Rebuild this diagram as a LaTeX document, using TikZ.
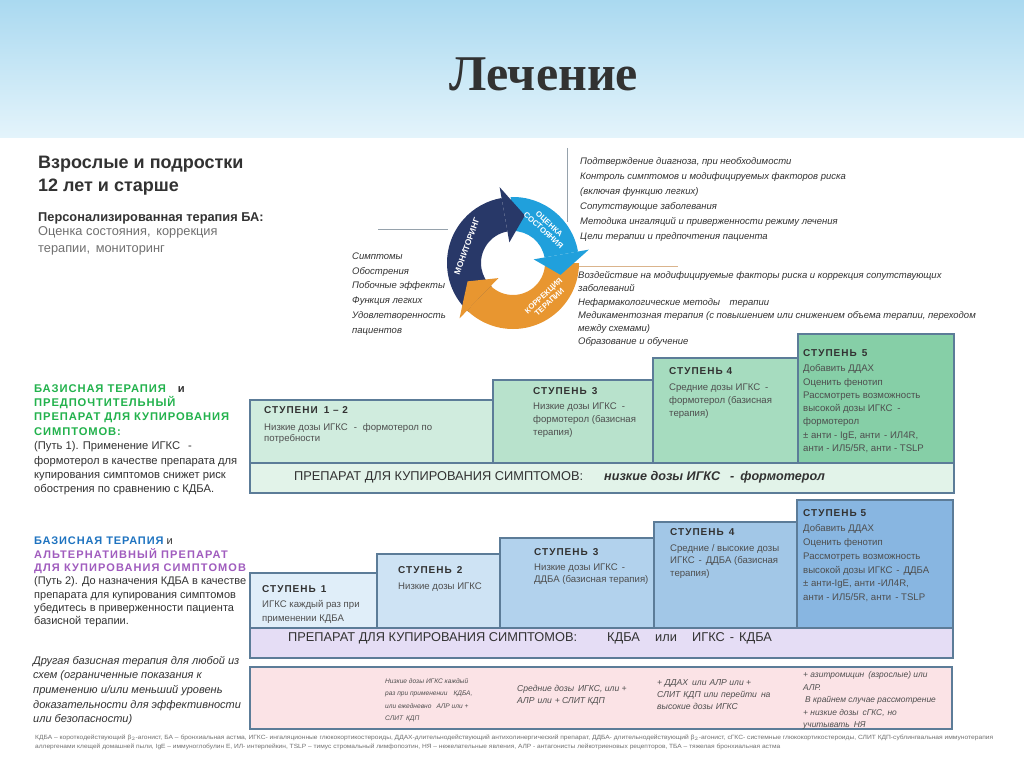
\documentclass[tikz,border=0pt]{standalone}
\usepackage{fontspec}
\setmainfont{Liberation Sans}
\newfontfamily\titlefont{Liberation Serif}
\definecolor{ink}{RGB}{50,50,50}
\definecolor{body}{RGB}{78,78,78}
\definecolor{soft}{RGB}{112,112,112}
\definecolor{frame}{RGB}{92,124,152}
\definecolor{headtop}{RGB}{170,217,240}
\definecolor{headbot}{RGB}{228,244,251}
\definecolor{navy}{RGB}{40,56,104}
\definecolor{sky}{RGB}{32,160,220}
\definecolor{amber}{RGB}{232,150,48}
\definecolor{rule}{RGB}{150,162,172}
\definecolor{tan}{RGB}{218,180,140}
\definecolor{pathgreen}{RGB}{34,178,76}
\definecolor{pathblue}{RGB}{30,115,192}
\definecolor{pathviolet}{RGB}{160,92,190}
\definecolor{gbar}{RGB}{226,243,233}
\definecolor{gone}{RGB}{208,236,222}
\definecolor{gtwo}{RGB}{184,226,204}
\definecolor{gthree}{RGB}{166,220,191}
\definecolor{gfour}{RGB}{134,207,167}
\definecolor{bone}{RGB}{224,238,249}
\definecolor{btwo}{RGB}{206,227,244}
\definecolor{bthree}{RGB}{178,210,237}
\definecolor{bfour}{RGB}{162,199,231}
\definecolor{bfive}{RGB}{136,182,225}
\definecolor{lavender}{RGB}{229,221,245}
\definecolor{rose}{RGB}{251,227,230}

\begin{document}
\begin{tikzpicture}[x=1pt, y=-1pt,
  txt/.style={anchor=north west, inner sep=0pt, align=left},
  box/.style={draw=frame, line width=1.1pt},
  stephead/.style={txt, text=ink, font=\fontsize{10}{12}\selectfont\bfseries\addfontfeatures{LetterSpace=10}},
  stepbody/.style={txt, text=body, font=\fontsize{9.6}{13}\selectfont},
  note/.style={txt, text=ink, font=\fontsize{9.5}{15}\selectfont\itshape},
  barlabel/.style={anchor=west, inner sep=0pt, text=ink, font=\fontsize{12.8}{14}\selectfont},
  other/.style={txt, text=body, font=\fontsize{8.6}{12}\selectfont\itshape},
  arrowtxt/.style={inner sep=0pt, align=center, text=white, font=\fontsize{7.8}{8.6}\selectfont\bfseries}]
  \useasboundingbox (0,0) rectangle (1024,767);
  \fill[white] (0,0) rectangle (1024,767);
  \shade[top color=headtop, bottom color=headbot] (0,0) rectangle (1024,138);
  \node[text=ink, font=\titlefont\bfseries\fontsize{50}{54}\selectfont] (title) at (544,74) {Лечение};

  % header text, left
  \node[txt, text=ink, font=\fontsize{18}{22.5}\selectfont\bfseries] (adults) at (38,156) {Взрослые и подростки\\12 лет и старше};
  \node[txt, text=ink, font=\fontsize{12.8}{15}\selectfont\bfseries] (pers) at (38,212) {Персонализированная терапия БА:};
  \node[txt, text=soft, font=\fontsize{12.8}{17}\selectfont] (cycle) at (38,226.5) {Оценка состояния,\, коррекция\\терапии,\, мониторинг};

  % cycle
  \draw[rule, line width=0.8pt] (378,229) -- (448,229);
  \draw[rule, line width=0.8pt] (567,148) -- (567,222);
  \draw[tan, line width=0.8pt] (567,266) -- (678,266);
  \begin{scope}[shift={(513,263)}, y=1pt]
    \fill[navy] (228:66) arc[start angle=228, end angle=100, radius=66] -- (100:32) arc[start angle=100, end angle=228, radius=32] -- cycle;
    \fill[sky] (92:66) arc[start angle=92, end angle=10, radius=66] -- (10:32) arc[start angle=10, end angle=92, radius=32] -- cycle;
    \fill[amber] (0:66) arc[start angle=0, end angle=-134, radius=66] -- (-134:32) arc[start angle=-134, end angle=0, radius=32] -- cycle;
    \fill[navy] (100:77) -- (76:49) -- (100:21) -- cycle;
    \fill[sky] (10:77) -- (-14:49) -- (10:21) -- cycle;
    \fill[amber] (-134:77) -- (-158:49) -- (-134:21) -- cycle;
    \node[arrowtxt, rotate=70, font=\fontsize{8.4}{9}\selectfont\bfseries] (monitor) at (160:49) {МОНИТОРИНГ};
    \node[arrowtxt, rotate=-42] (assess) at (47:49) {ОЦЕНКА\\СОСТОЯНИЯ};
    \node[arrowtxt, rotate=43] (adjust) at (-47:49) {КОРРЕКЦИЯ\\ТЕРАПИИ};
  \end{scope}
  \node[note, font=\fontsize{9.5}{14.8}\selectfont\itshape] (monlist) at (352,252.5) {Симптомы\\Обострения\\Побочные эффекты\\Функция легких\\Удовлетворенность\\пациентов};
  \node[note] (asslist) at (580,157.5) {Подтверждение диагноза, при необходимости\\Контроль симптомов и модифицируемых факторов риска\\(включая функцию легких)\\Сопутствующие заболевания\\Методика ингаляций и приверженности режиму лечения\\Цели терапии и предпочтения пациента};
  \node[note, font=\fontsize{9.5}{13.2}\selectfont\itshape] (adjlist) at (578,271.5) {Воздействие на модифицируемые факторы риска и коррекция сопутствующих\\заболеваний\\Нефармакологические методы\quad терапии\\Медикаментозная терапия (с повышением или снижением объема терапии, переходом\\между схемами)\\Образование и обучение};

  % track 1
  \node[txt, text=ink, font=\fontsize{11.2}{14.4}\selectfont] (track1) at (34,384) {{\bfseries\color{pathgreen}\addfontfeatures{LetterSpace=8}БАЗИСНАЯ ТЕРАПИЯ}\hspace{12pt}{\bfseries и}\\{\bfseries\color{pathgreen}\addfontfeatures{LetterSpace=8}ПРЕДПОЧТИТЕЛЬНЫЙ}\\{\bfseries\color{pathgreen}\addfontfeatures{LetterSpace=8}ПРЕПАРАТ ДЛЯ КУПИРОВАНИЯ}\\{\bfseries\color{pathgreen}\addfontfeatures{LetterSpace=8}СИМПТОМОВ:}\\(Путь 1). Применение ИГКС\hspace{8pt}-\\формотерол в качестве препарата для\\купирования симптомов снижет риск\\обострения по сравнению с КДБА.};
  \draw[box, fill=gone] (250,400) rectangle (493,463);
  \draw[box, fill=gtwo] (493,380) rectangle (653,463);
  \draw[box, fill=gthree] (653,358) rectangle (798,463);
  \draw[box, fill=gfour] (798,334) rectangle (954,463);
  \draw[box, fill=gbar] (250,463) rectangle (954,493);
  \node[stephead] (ga) at (264,406) {СТУПЕНИ\hspace{6pt}1 – 2};
  \node[stepbody, font=\fontsize{9.6}{11.7}\selectfont] (gatext) at (264,423) {Низкие дозы ИГКС\hspace{6pt}-\hspace{6pt}формотерол по\\потребности};
  \node[stephead] (gb) at (533,387) {СТУПЕНЬ\hspace{5pt}3};
  \node[stepbody] (gbtext) at (533,402.5) {Низкие дозы ИГКС\hspace{5pt}-\\формотерол (базисная\\терапия)};
  \node[stephead] (gc) at (669,367) {СТУПЕНЬ 4};
  \node[stepbody] (gctext) at (669,383.5) {Средние дозы ИГКС\hspace{5pt}-\\формотерол (базисная\\терапия)};
  \node[stephead] (gd) at (803,349) {СТУПЕНЬ\hspace{5pt}5};
  \node[stepbody, font=\fontsize{9.6}{13.3}\selectfont] (gdtext) at (803,364.5) {Добавить ДДАХ\\Оценить фенотип\\Рассмотреть возможность\\высокой дозы ИГКС\hspace{5pt}-\\формотерол\\± анти - IgE, анти\hspace{4pt}- ИЛ4R,\\анти - ИЛ5/5R, анти - TSLP};
  \node[barlabel] (grel) at (294,477) {ПРЕПАРАТ ДЛЯ КУПИРОВАНИЯ СИМПТОМОВ:};
  \node[barlabel, font=\fontsize{12.6}{14}\selectfont\bfseries\itshape] (grelx) at (604,477) {низкие дозы ИГКС\hspace{10pt}-\hspace{6pt}формотерол};

  % track 2
  \node[txt, text=ink, font=\fontsize{11}{13.3}\selectfont] (track2) at (34,537) {{\bfseries\color{pathblue}\addfontfeatures{LetterSpace=8}БАЗИСНАЯ ТЕРАПИЯ} и\\{\bfseries\color{pathviolet}\addfontfeatures{LetterSpace=10}АЛЬТЕРНАТИВНЫЙ ПРЕПАРАТ}\\{\bfseries\color{pathviolet}\addfontfeatures{LetterSpace=10}ДЛЯ КУПИРОВАНИЯ СИМПТОМОВ}\\(Путь 2). До назначения КДБА в качестве\\препарата для купирования симптомов\\убедитесь в приверженности пациента\\базисной терапии.};
  \draw[box, fill=bone] (250,573) rectangle (377,628);
  \draw[box, fill=btwo] (377,554) rectangle (500,628);
  \draw[box, fill=bthree] (500,538) rectangle (654,628);
  \draw[box, fill=bfour] (654,522) rectangle (797,628);
  \draw[box, fill=bfive] (797,500) rectangle (953,628);
  \draw[box, fill=lavender] (250,628) rectangle (953,658);
  \node[stephead] (ba) at (262,585) {СТУПЕНЬ\hspace{5pt}1};
  \node[stepbody, font=\fontsize{9.6}{14}\selectfont] (batext) at (262,600.5) {ИГКС каждый раз при\\применении КДБА};
  \node[stephead] (bb) at (398,566) {СТУПЕНЬ\hspace{5pt}2};
  \node[stepbody] (bbtext) at (398,582.5) {Низкие дозы ИГКС};
  \node[stephead] (bc) at (534,548) {СТУПЕНЬ\hspace{5pt}3};
  \node[stepbody, font=\fontsize{9.6}{12.5}\selectfont] (bctext) at (534,563.5) {Низкие дозы ИГКС\hspace{4pt}-\\ДДБА (базисная терапия)};
  \node[stephead] (bd) at (670,528) {СТУПЕНЬ\hspace{5pt}4};
  \node[stepbody, font=\fontsize{9.6}{12.2}\selectfont] (bdtext) at (670,544.5) {Средние / высокие дозы\\ИГКС\hspace{4pt}-\hspace{4pt}ДДБА (базисная\\терапия)};
  \node[stephead] (be) at (803,509) {СТУПЕНЬ 5};
  \node[stepbody, font=\fontsize{9.6}{13.8}\selectfont] (betext) at (803,524.5) {Добавить ДДАХ\\Оценить фенотип\\Рассмотреть возможность\\высокой дозы ИГКС\hspace{4pt}-\hspace{4pt}ДДБА\\± анти-IgE, анти -ИЛ4R,\\анти - ИЛ5/5R, анти\hspace{4pt}- TSLP};
  \node[barlabel] (brel) at (288,638) {ПРЕПАРАТ ДЛЯ КУПИРОВАНИЯ СИМПТОМОВ:};
  \node[barlabel] (brela) at (607,638) {КДБА};
  \node[barlabel] (brelb) at (655,638) {или};
  \node[barlabel] (brelc) at (692,638) {ИГКС\hspace{5pt}-\hspace{5pt}КДБА};

  % other controller options
  \node[txt, text=ink, font=\fontsize{11}{14.6}\selectfont\itshape] (otherleft) at (33,656) {Другая базисная терапия для любой из\\схем (ограниченные показания к\\применению и/или меньший уровень\\доказательности для эффективности\\или безопасности)};
  \draw[box, fill=rose] (250,667) rectangle (952,729);
  \node[other, font=\fontsize{6.6}{12.3}\selectfont\itshape] (oa) at (385,678.5) {Низкие дозы ИГКС каждый\\раз при применении\hspace{6pt}КДБА,\\или ежедневно\hspace{5pt}АЛР или +\\СЛИТ\hspace{3pt}КДП};
  \node[other] (ob) at (517,685) {Средние дозы\hspace{4pt}ИГКС, или +\\АЛР\hspace{3pt}или\hspace{3pt}+\hspace{2pt}СЛИТ КДП};
  \node[other] (oc) at (657,679) {+ ДДАХ\hspace{4pt}или\hspace{3pt}АЛР или +\\СЛИТ\hspace{3pt}КДП\hspace{3pt}или\hspace{3pt}перейти\hspace{4pt}на\\высокие дозы\hspace{3pt}ИГКС};
  \node[other, font=\fontsize{8.4}{12.5}\selectfont\itshape] (od) at (803,671.5) {+ азитромицин\hspace{4pt}(взрослые) или\\АЛР.\\\hspace{2pt}В крайнем случае рассмотрение\\+ низкие дозы\hspace{4pt}сГКС,\hspace{3pt}но\\учитывать\hspace{4pt}НЯ};

  % footnote
  \node[txt, text=soft, font=\fontsize{6}{7}\selectfont] (footA) at (35,735) {\resizebox{958pt}{4.5pt}{КДБА – короткодействующий β$_2$-агонист, БА – бронхиальная астма, ИГКС- ингаляционные глюкокортикостероиды, ДДАХ-длительнодействующий антихолинергический препарат, ДДБА- длительнодействующий β$_2$-агонист, сГКС- системные глюкокортикостероиды, СЛИТ КДП-сублингвальная иммунотерапия}};
  \node[txt, text=soft, font=\fontsize{6}{7}\selectfont] (footB) at (35,744) {\resizebox{745pt}{4.5pt}{аллергенами клещей домашней пыли, IgE – иммуноглобулин E, ИЛ- интерлейкин, TSLP – тимус стромальный лимфопоэтин, НЯ – нежелательные явления, АЛР - антагонисты лейкотриеновых рецепторов, ТБА – тяжелая бронхиальная астма}};
\end{tikzpicture}
\end{document}
